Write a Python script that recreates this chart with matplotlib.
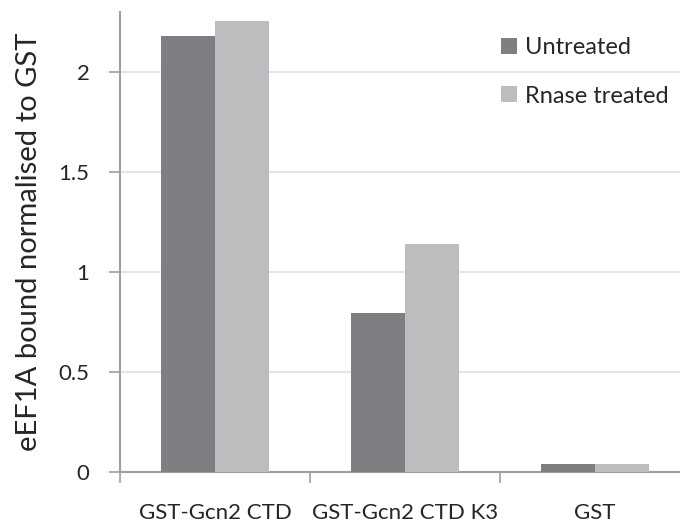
import matplotlib
matplotlib.use("Agg")
import matplotlib.pyplot as plt
import numpy as np

categories = ["GST-Gcn2 CTD", "GST-Gcn2 CTD K3", "GST"]
untreated = [2.18, 0.795, 0.038]
rnase_treated = [2.255, 1.14, 0.041]
series_names = ["Untreated", "Rnase treated"]
yticks = [0, 0.5, 1, 1.5, 2]
ytick_labels = ["0", "0.5", "1", "1.5", "2"]

plt.rcParams["font.family"] = ["Lato", "DejaVu Sans"]
text_color = "#262626"
fs = 16

W, H = 680, 527
fig = plt.figure(figsize=(W / 100, H / 100), dpi=100)
left, right, top, bottom = 120, 690, 12, 472
ax = fig.add_axes([left / W, 1 - bottom / H, (right - left) / W, (bottom - top) / H])

x = np.arange(len(categories))
bw = 0.284
dark = "#7f7f83"
light = "#bdbdbf"
ax.bar(x - bw / 2, untreated, bw, color=dark, label=series_names[0], zorder=3)
ax.bar(x + bw / 2, rnase_treated, bw, color=light, label=series_names[1], zorder=3)

ax.set_xlim(-0.5, 2.5)
ax.set_ylim(0, 2.3)
ax.set_yticks(yticks)
ax.set_yticklabels(ytick_labels)
ax.yaxis.grid(True, color="#dde6f0", linewidth=1.5, zorder=0)
ax.set_axisbelow(True)

ax.set_xticks(x)
ax.set_xticklabels(categories)
ax.set_xticks([-0.5, 0.5, 1.5, 2.5], minor=True)
ax.tick_params(axis="x", which="major", length=0, pad=22, labelsize=fs, colors=text_color)
ax.tick_params(axis="x", which="minor", length=8, color="#a0a0a0", width=1.2)
ax.tick_params(axis="y", length=8, color="#a0a0a0", width=1.2, pad=14, labelsize=fs, labelcolor=text_color)

for s in ["top", "right"]:
    ax.spines[s].set_visible(False)
for s in ["left", "bottom"]:
    ax.spines[s].set_color("#a0a0a0")
    ax.spines[s].set_linewidth(1.5)

ax.set_ylabel("eEF1A bound normalised to GST", fontsize=21, color=text_color, labelpad=12)

leg = ax.legend(loc="upper left", bbox_to_anchor=((492 - left) / (right - left), 1 - (28 - top) / (bottom - top)),
                frameon=False, fontsize=17, handlelength=0.65, handleheight=0.65,
                handletextpad=0.35, labelspacing=1.15, borderaxespad=0)
for t in leg.get_texts():
    t.set_color(text_color)

fig.savefig("out.png", dpi=100)
